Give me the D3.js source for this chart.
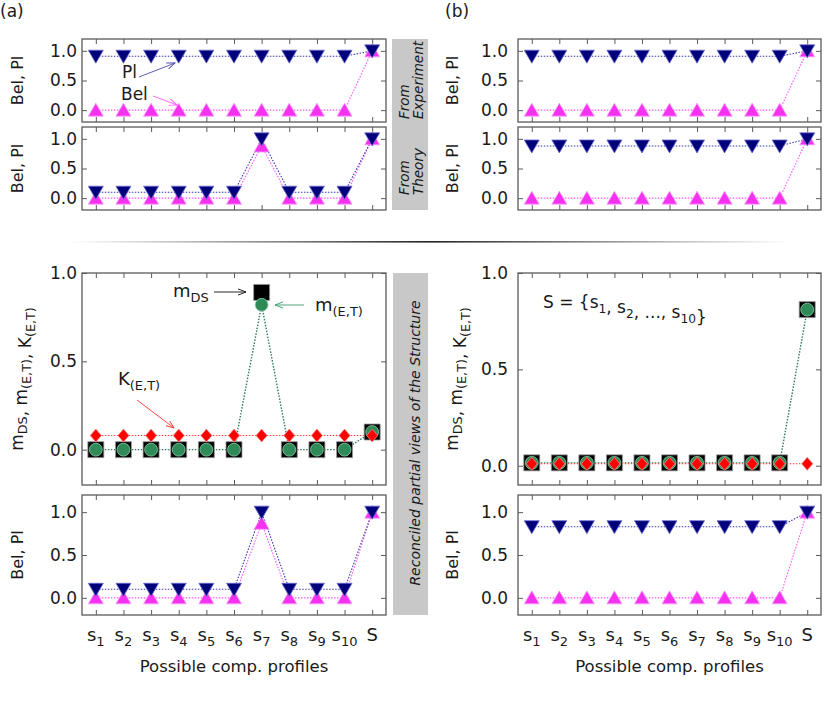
<!DOCTYPE html>
<html><head><meta charset="utf-8">
<script src="https://cdn.jsdelivr.net/npm/d3@7"></script>
<style>body{margin:0;background:#fff} text{font-family:"DejaVu Sans",sans-serif;fill:#1a1a1a}</style>
</head><body><svg id="c" width="830" height="713"></svg>
<script>
// ---------- data ----------
const categories = ["s1","s2","s3","s4","s5","s6","s7","s8","s9","s10","S"];
const catBase = ["s","s","s","s","s","s","s","s","s","s","S"];
const catSub  = ["1","2","3","4","5","6","7","8","9","10",""];
const yTicks = [0, 0.5, 1.0];

// (a)
const expPl_a  = [0.91,0.91,0.91,0.91,0.91,0.91,0.91,0.91,0.91,0.91,1.0];
const expBel_a = [0,0,0,0,0,0,0,0,0,0,1.0];
const thPl_a   = [0.1,0.1,0.1,0.1,0.1,0.1,1.0,0.1,0.1,0.1,1.0];
const thBel_a  = [0,0,0,0,0,0,0.88,0,0,0,1.0];
const mDS_a    = [0,0,0,0,0,0,0.89,0,0,0,0.1];
const mET_a    = [0,0,0,0,0,0,0.82,0,0,0,0.1];
const kET_a    = [0.08,0.08,0.08,0.08,0.08,0.08,0.08,0.08,0.08,0.08,0.08];
const recPl_a  = [0.1,0.1,0.1,0.1,0.1,0.1,1.0,0.1,0.1,0.1,1.0];
const recBel_a = [0,0,0,0,0,0,0.87,0,0,0,1.0];
// (b)
const expPl_b  = [0.91,0.91,0.91,0.91,0.91,0.91,0.91,0.91,0.91,0.91,1.0];
const expBel_b = [0,0,0,0,0,0,0,0,0,0,1.0];
const thPl_b   = [0.88,0.88,0.88,0.88,0.88,0.88,0.88,0.88,0.88,0.88,1.0];
const thBel_b  = [0,0,0,0,0,0,0,0,0,0,1.0];
const mDS_b    = [0.015,0.015,0.015,0.015,0.015,0.015,0.015,0.015,0.015,0.015,0.81];
const mET_b    = [0.015,0.015,0.015,0.015,0.015,0.015,0.015,0.015,0.015,0.015,0.81];
const kET_b    = [0.01,0.01,0.01,0.01,0.01,0.01,0.01,0.01,0.01,0.01,0.01];
const recPl_b  = [0.83,0.83,0.83,0.83,0.83,0.83,0.83,0.83,0.83,0.83,1.0];
const recBel_b = [0,0,0,0,0,0,0,0,0,0,1.0];

// ---------- layout ----------
const svg = d3.select("#c");
const cols = [{x0:82,x1:386,pad:5,ylab:23},{x0:518,x1:821,pad:10,ylab:458}];
const rows = [[39,122],[127,210],[273,485],[495,615]];
const FR = "#5a5a5a";

const defs = svg.append("defs");
function arrowMarker(id,color){
  defs.append("marker").attr("id",id).attr("viewBox","0 0 10 10").attr("refX",9).attr("refY",5)
    .attr("markerWidth",9).attr("markerHeight",9).attr("orient","auto").attr("markerUnits","userSpaceOnUse")
    .append("path").attr("d","M0,1.5L9,5L0,8.5").attr("fill","none").attr("stroke",color).attr("stroke-width",1);
}
arrowMarker("aPl","#4a4ab0");arrowMarker("aBel","#ff55ff");arrowMarker("aDS","#111");
arrowMarker("aET","#3a9a6a");arrowMarker("aK","#ff3030");

const grad = defs.append("linearGradient").attr("id","sep");
grad.append("stop").attr("offset","0").attr("stop-color","#333").attr("stop-opacity",0);
grad.append("stop").attr("offset","0.5").attr("stop-color","#222").attr("stop-opacity",1);
grad.append("stop").attr("offset","1").attr("stop-color","#333").attr("stop-opacity",0);

function makePanel(c,r,dom){
  const col = cols[c], row = rows[r];
  const x = d3.scalePoint().domain(categories).range([col.x0,col.x1]).padding(0.5);
  const y = d3.scaleLinear().domain(dom).range([row[1],row[0]]);
  const g = svg.append("g");
  const ax = (a,tr)=>g.append("g").attr("transform",tr).call(a).call(s=>s.select(".domain").remove())
     .call(s=>s.selectAll("line").attr("stroke",FR)).call(s=>s.selectAll("text").attr("font-size",17).attr("font-family","DejaVu Sans").attr("fill","#1a1a1a"));
  ax(d3.axisLeft(y).tickValues(yTicks).tickSize(-5).tickPadding(col.pad).tickFormat(d3.format(".1f")),`translate(${col.x0},0)`);
  ax(d3.axisRight(y).tickValues(yTicks).tickSize(-5).tickFormat(""),`translate(${col.x1},0)`);
  ax(d3.axisTop(x).tickSize(-5).tickFormat(""),`translate(0,${row[0]})`);
  ax(d3.axisBottom(x).tickSize(-5).tickFormat(""),`translate(0,${row[1]})`);
  g.append("rect").attr("x",col.x0).attr("y",row[0]).attr("width",col.x1-col.x0).attr("height",row[1]-row[0])
    .attr("fill","none").attr("stroke",FR).attr("stroke-width",1.3);
  return {g,x,y,col,row};
}
function line(p,data,color,w){
  p.g.append("path").datum(data)
   .attr("d",d3.line().x((d,i)=>p.x(categories[i])).y(d=>p.y(d)))
   .attr("fill","none").attr("stroke",color).attr("stroke-width",w||1.1).attr("stroke-dasharray","1.5,1.5");
}
function pts(p,data,pathStr,fill,stroke){
  p.g.append("g").selectAll("path").data(data).join("path")
   .attr("transform",(d,i)=>`translate(${p.x(categories[i])},${p.y(d)})`)
   .attr("d",pathStr).attr("fill",fill).attr("stroke",stroke).attr("stroke-width",0.8);
}
const DOWN="M-7.5,-6L7.5,-6L0,7Z", UP="M-7.5,6L7.5,6L0,-7Z";
const SQ="M-8,-8H8V8H-8Z", DIA="M0,-6.5L5.5,0L0,6.5L-5.5,0Z";
const CIR=d3.symbol(d3.symbolCircle,130)();

function belPl(c,r,pl,bel){
  const p = makePanel(c,r,[-0.2,1.2]);
  line(p,bel,"#ff55ff");
  line(p,pl,"#3a3aaa");
  pts(p,bel,UP,"#f531f0","#ff9cff");
  pts(p,pl,DOWN,"#00007a","#6a6ad0");
  return p;
}
function mass(c,dom,ds,et,k){
  const p = makePanel(c,2,dom);
  line(p,et,"#2e7d57",1.4);
  line(p,k,"#ff4040",1.1);
  pts(p,ds,SQ,"#000","#999");
  pts(p,et,CIR,"#2e8b57","#8fcfaf");
  pts(p,k,DIA,"#ff0000","#ff8080");
  return p;
}

const a1 = belPl(0,0,expPl_a,expBel_a);
const a2 = belPl(0,1,thPl_a,thBel_a);
const a3 = mass(0,[-0.2,1.0],mDS_a,mET_a,kET_a);
const a4 = belPl(0,3,recPl_a,recBel_a);
const b1 = belPl(1,0,expPl_b,expBel_b);
const b2 = belPl(1,1,thPl_b,thBel_b);
const b3 = mass(1,[-0.1,1.0],mDS_b,mET_b,kET_b);
const b4 = belPl(1,3,recPl_b,recBel_b);

// x tick labels
[a4,b4].forEach(p=>{
  const t = svg.append("g").selectAll("text").data(categories).join("text")
    .attr("x",d=>p.x(d)).attr("y",641).attr("text-anchor","middle").attr("font-size",18);
  t.append("tspan").text((d,i)=>catBase[i]);
  t.append("tspan").attr("font-size",13).attr("dy",5).text((d,i)=>catSub[i]);
  svg.append("text").attr("x",(p.col.x0+p.col.x1)/2).attr("y",672).attr("text-anchor","middle")
    .attr("font-size",16.5).text("Possible comp. profiles");
});

// y labels
function ylab(c,r,parts,size){
  const cy=(rows[r][0]+rows[r][1])/2;
  const t=svg.append("text").attr("transform",`translate(${cols[c].ylab},${cy}) rotate(-90)`)
    .attr("text-anchor","middle").attr("font-size",size);
  parts.forEach(([s,sub])=>{ t.append("tspan").text(s);
    if(sub){ t.append("tspan").attr("font-size",size*0.75).attr("dy",4).text(sub); t.append("tspan").attr("dy",-4).text(""); }});
}
[0,1].forEach(c=>{[0,1,3].forEach(r=>ylab(c,r,[["Bel, Pl",""]],16));
  ylab(c,2,[["m","DS"],[", m","(E,T)"],[", K","(E,T)"]],17);});

// panel letters
svg.append("text").attr("x",0).attr("y",17).attr("font-size",17).text("(a)");
svg.append("text").attr("x",445).attr("y",17).attr("font-size",17).text("(b)");

// gray side boxes
svg.append("rect").attr("x",392).attr("y",39).attr("width",36).attr("height",171).attr("fill","#c8c8c8");
svg.append("rect").attr("x",393).attr("y",273).attr("width",35).attr("height",342).attr("fill","#c8c8c8");
function rot(x,y,txt,anchor,size){
  svg.append("text").attr("transform",`translate(${x},${y}) rotate(-90)`).attr("text-anchor",anchor)
    .attr("font-size",size).attr("font-style","italic").text(txt);
}
rot(409,119,"From","start",13.5); rot(423,119,"Experiment","start",13.5);
rot(409,195,"From","start",13.5); rot(423,195,"Theory","start",13.5);
rot(420,443,"Reconciled partial views of the Structure","middle",14);

// separator
svg.append("rect").attr("x",70).attr("y",241).attr("width",720).attr("height",1.6).attr("fill","url(#sep)");

// annotations
function ann(x1,y1,x2,y2,m,color){
  svg.append("line").attr("x1",x1).attr("y1",y1).attr("x2",x2).attr("y2",y2)
    .attr("stroke",color).attr("stroke-width",0.9).attr("marker-end",`url(#${m})`);
}
function subText(x,y,parts,size){
  const t=svg.append("text").attr("x",x).attr("y",y).attr("font-size",size);
  parts.forEach(([s,sub])=>{ t.append("tspan").text(s);
    if(sub){ t.append("tspan").attr("font-size",size*0.72).attr("dy",5).text(sub); t.append("tspan").attr("dy",-5).text(""); }});
}
subText(122,78,[["Pl",""]],17); ann(139,77,175,63,"aPl","#4a4ab0");
subText(121,100,[["Bel",""]],17); ann(153,96,177,105,"aBel","#ff55ff");
subText(173,297,[["m","DS"]],18); ann(214,292,246,292,"aDS","#111");
subText(315,311,[["m","(E,T)"]],18); ann(304,305,275,305,"aET","#3a9a6a");
subText(118,385,[["K","(E,T)"]],18); ann(137,400,174,428,"aK","#ff3030");
subText(543,308,[["S = {s","1"],[", s","2"],[", ..., s","10"],["}",""]],17);
</script></body></html>
